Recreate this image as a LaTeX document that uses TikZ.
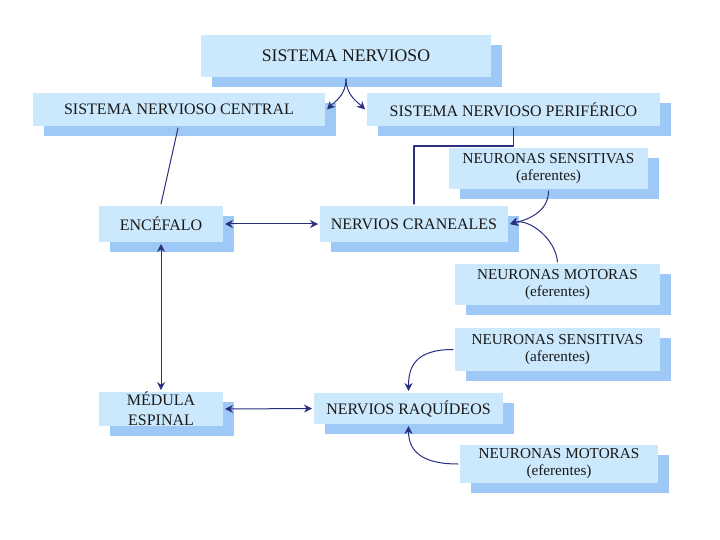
\documentclass[tikz,border=0pt]{standalone}
\usepackage{fontspec}
\setmainfont{Liberation Serif}
\usetikzlibrary{arrows.meta,shadows}

\definecolor{fondocaja}{HTML}{CCE8FC}
\definecolor{sombra}{HTML}{9EC9F7}
\definecolor{trazo}{HTML}{2A2F7F}

\begin{document}
\begin{tikzpicture}[
    x=1pt, y=-1pt,
    line cap=round,
    line join=round,
    recuadro/.style={fill=fondocaja, inner sep=0pt, outer sep=2pt,
        align=center, text=black!90,
        font=\fontsize{16}{18}\selectfont,
        drop shadow={shadow xshift=11pt, shadow yshift=-10pt,
            fill=sombra, opacity=1}},
    neurona/.style={recuadro, font=\fontsize{15.2}{17}\selectfont},
    linea/.style={draw=trazo, line width=1pt},
    flecha/.style={linea, -{Stealth[length=8pt,width=8pt]}},
    dobleflecha/.style={linea,
        {Stealth[length=8pt,width=8pt]}-{Stealth[length=8pt,width=8pt]}}
]

% Marco
\useasboundingbox[fill=white] (0,0) rectangle (720,540);

% Recuadros superiores
\node[recuadro, minimum width=290pt, minimum height=42pt,
      font=\fontsize{17.7}{19}\selectfont] (sn) at (346,56) {SISTEMA NERVIOSO};
\node[recuadro, minimum width=292pt, minimum height=33pt] (snc) at (179,109.5)
    {SISTEMA NERVIOSO CENTRAL};
\node[recuadro, minimum width=293pt, minimum height=33pt] (snp) at (513.5,109.5)
    {SISTEMA NERVIOSO PERIFÉRICO};

% Sistema central
\node[recuadro, minimum width=124pt, minimum height=36pt] (enc) at (161,224)
    {ENCÉFALO};
\node[recuadro, minimum width=124pt, minimum height=31pt,
      font=\fontsize{16}{20}\selectfont] (med) at (161,409)
    {MÉDULA\\ESPINAL};

% Nervios
\node[recuadro, minimum width=188pt, minimum height=36pt] (ncr) at (414,224)
    {NERVIOS CRANEALES};
\node[recuadro, minimum width=189pt, minimum height=31pt] (nrq) at (408.5,408.5)
    {NERVIOS RAQUÍDEOS};

% Neuronas
\node[neurona, minimum width=199pt, minimum height=41pt] (sens1) at (548.5,168.5)
    {NEURONAS SENSITIVAS\\(aferentes)};
\node[neurona, minimum width=205pt, minimum height=41pt] (mot1) at (557.5,284.5)
    {NEURONAS MOTORAS\\(eferentes)};
\node[neurona, minimum width=205pt, minimum height=43pt] (sens2) at (557.5,349.5)
    {NEURONAS SENSITIVAS\\(aferentes)};
\node[neurona, minimum width=198pt, minimum height=38pt] (mot2) at (559,464)
    {NEURONAS MOTORAS\\(eferentes)};

% Ramas del sistema nervioso
\draw[flecha] (sn.south) .. controls +(0,16) and +(8,-8) .. (snc.east);
\draw[flecha] (sn.south) .. controls +(0,16) and +(-8,-8) .. (snp.west);

% Lineas sin punta
\draw[linea] ([xshift=-1pt]snc.south) -- (enc.north);
\draw[linea, line width=1.2pt] (snp.south) -- ++(0,18) -| (ncr.north);

% Flechas dobles
\draw[dobleflecha] (enc.east) -- (ncr.west);
\draw[dobleflecha] (enc.south) -- (med.north);
\draw[dobleflecha] (med.east) -- (nrq.west);

% Neuronas hacia los nervios
\draw[flecha] (sens1.south) .. controls +(0,22) and +(16,-4) .. (ncr.east);
\draw[flecha] (mot1.north) .. controls +(-2,-24) and +(18,-6) .. (ncr.east);
\draw[flecha] (sens2.west) .. controls +(-38,0) and +(0,-24) .. (nrq.north);
\draw[flecha] (mot2.west) .. controls +(-38,0) and +(0,24) .. (nrq.south);

\end{tikzpicture}
\end{document}
